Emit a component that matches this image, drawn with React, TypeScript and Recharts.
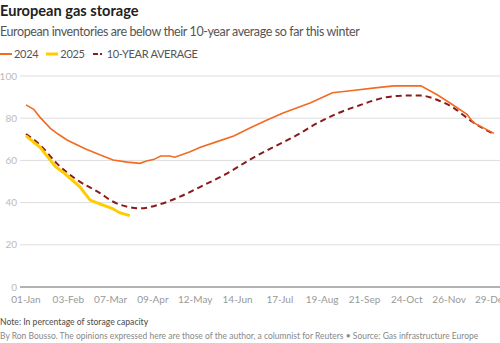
import React from "react"
import { LineChart, Line, XAxis, YAxis, CartesianGrid } from "recharts"

// day-of-year (0 = 01-Jan) and % of storage capacity
const days2024 = [0, 6, 11, 19, 25, 32, 40, 47, 58, 68, 79, 89, 94, 100, 105, 112, 116, 128, 136, 149, 162, 175, 188, 201, 222, 239, 253, 274, 287, 308, 321, 331, 344, 349, 365]
const values2024 = [86.3, 84.2, 80.4, 75.2, 72.5, 69.7, 67.3, 65.3, 62.6, 60.2, 59.2, 58.6, 59.7, 60.5, 62.1, 62.1, 61.5, 64.1, 66.2, 68.9, 71.6, 75.5, 79.1, 82.6, 87.3, 92.1, 93.0, 94.5, 95.3, 95.4, 91.0, 87.1, 81.8, 77.9, 72.8]

const days2025 = [0, 11, 23, 30, 42, 50, 58, 67, 73, 81]
const values2025 = [71.6, 66.2, 57.0, 53.9, 47.5, 41.2, 39.3, 37.3, 35.2, 33.8]

const daysAvg = [0, 11, 24, 40, 58, 68, 81, 89, 105, 120, 136, 157, 175, 191, 209, 227, 243, 261, 279, 295, 308, 321, 334, 347, 365]
const valuesAvg = [72.5, 67.3, 58.6, 50.7, 44.4, 40.4, 37.8, 37.3, 39.3, 42.8, 47.5, 53.9, 60.5, 65.7, 71.2, 77.6, 82.3, 86.3, 89.7, 90.7, 90.7, 88.6, 84.7, 78.7, 72.5]

const tickDays = [0, 33, 66, 99, 132, 165, 198, 231, 264, 297, 330, 363]
const tickLabels = ["01-Jan", "03-Feb", "07-Mar", "09-Apr", "12-May", "14-Jun", "17-Jul", "19-Aug", "21-Sep", "24-Oct", "26-Nov", "29-Dec"]
const yTicks = [0, 20, 40, 60, 80, 100]

const series = (days: number[], values: number[]) => days.map((day, i) => ({ day, value: values[i] }))

const data2024 = series(days2024, values2024)
const data2025 = series(days2025, values2025)
const dataAvg = series(daysAvg, valuesAvg)

const FONT = "Lato, 'Open Sans', sans-serif"

function LegendItem({ color, label, dash, width }: { color: string; label: string; dash?: string; width: number }) {
  return (
    <span style={{ display: "inline-flex", alignItems: "center", marginRight: 8 }}>
      <svg width={12} height={4} style={{ marginRight: 2 }}>
        <line x1={0} y1={2} x2={12} y2={2} stroke={color} strokeWidth={width} strokeDasharray={dash} />
      </svg>
      {label}
    </span>
  )
}

export default function App() {
  return (
    <div style={{ position: "absolute", left: 0, top: 0, width: 500, height: 343, overflow: "hidden", background: "#fff", fontFamily: FONT }}>
      <div style={{ position: "absolute", left: 0, top: 2, fontSize: 14.6, fontWeight: 700, color: "#222" }}>European gas storage</div>
      <div style={{ position: "absolute", left: 0, top: 24, fontSize: 12.5, letterSpacing: -0.4, color: "#555" }}>
        European inventories are below their 10-year average so far this winter
      </div>
      <div style={{ position: "absolute", left: 0, top: 47, fontSize: 11, letterSpacing: -0.3, color: "#555", display: "flex" }}>
        <LegendItem color="#f26b21" label="2024" width={2} />
        <LegendItem color="#ffcc00" label="2025" width={3} />
        <LegendItem color="#8b1a1a" label="10-YEAR AVERAGE" dash="5 2 2 10" width={2} />
      </div>

      <div style={{ position: "absolute", left: 0, top: 0 }}>
        <LineChart width={500} height={343} margin={{ top: 76, right: 0, bottom: 26, left: 0 }}>
          <CartesianGrid vertical={false} stroke="#dddddd" strokeWidth={1} />
          <XAxis
            dataKey="day"
            type="number"
            domain={[0, 365]}
            ticks={tickDays}
            interval={0}
            tickFormatter={(d: number) => tickLabels[tickDays.indexOf(d)] ?? ""}
            padding={{ left: 6, right: 6 }}
            axisLine={{ stroke: "#777", strokeWidth: 1 }}
            tickLine={false}
            tickMargin={3}
            height={30}
            tick={{ fill: "#999", fontSize: 10, fontFamily: FONT }}
          />
          <YAxis
            domain={[0, 100]}
            ticks={yTicks}
            width={20}
            axisLine={false}
            tickLine={false}
            tickSize={0}
            tickMargin={3}
            tick={{ fill: "#bbb", fontSize: 10, fontFamily: FONT }}
          />
          <Line data={dataAvg} dataKey="value" type="monotone" stroke="#8b1a1a" strokeWidth={2} strokeDasharray="6 4" dot={false} isAnimationActive={false} />
          <Line data={data2024} dataKey="value" type="linear" stroke="#f26b21" strokeWidth={1.6} dot={false} isAnimationActive={false} />
          <Line data={data2025} dataKey="value" type="linear" stroke="#ffcc00" strokeWidth={3} dot={false} isAnimationActive={false} />
        </LineChart>
      </div>

      <div style={{ position: "absolute", left: 0, top: 317, fontSize: 8.6, fontWeight: 500, color: "#555" }}>
        Note: In percentage of storage capacity
      </div>
      <div style={{ position: "absolute", left: 0, top: 331, fontSize: 8.5, color: "#888", whiteSpace: "nowrap" }}>
        By Ron Bousso. The opinions expressed here are those of the author, a columnist for Reuters • Source: Gas infrastructure Europe
      </div>
    </div>
  )
}
